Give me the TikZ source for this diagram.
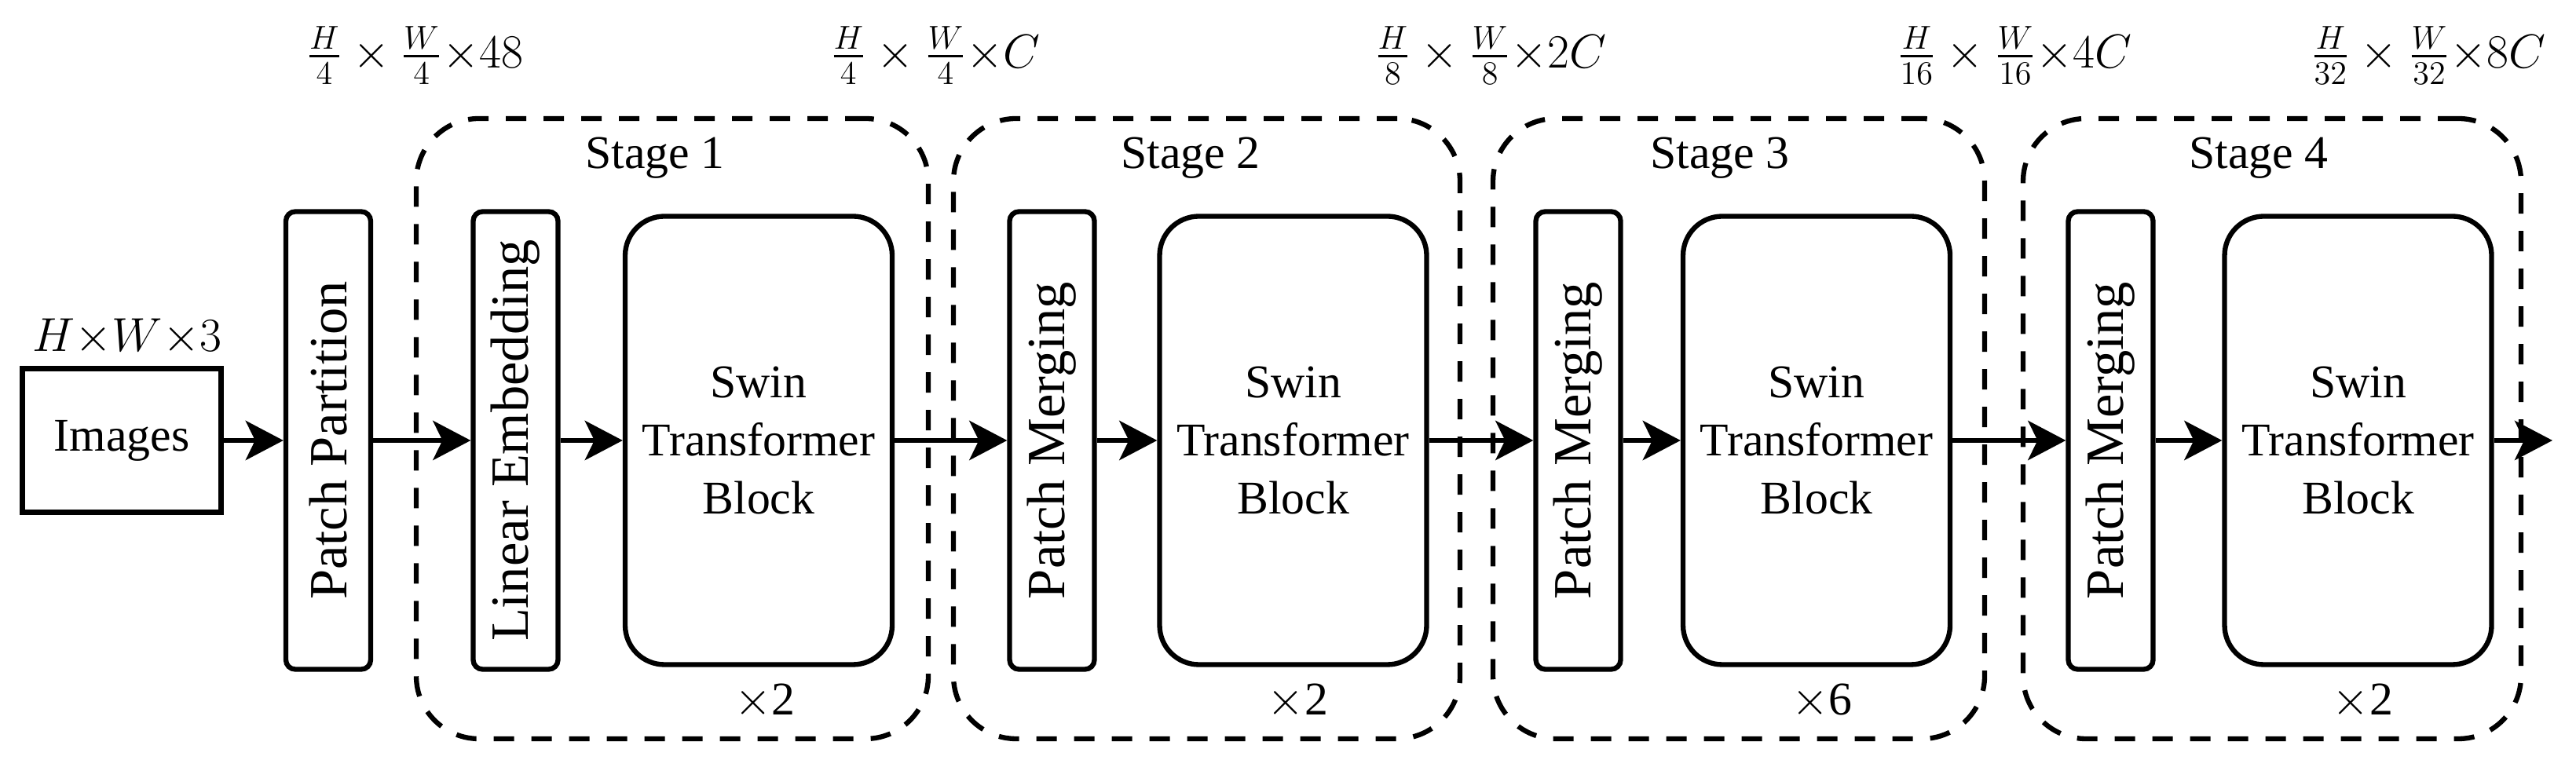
\documentclass[tikz,border=0pt]{standalone}
\usepackage{amsmath}
\usepackage[no-math]{fontspec}
\setmainfont{Liberation Serif}
\newfontfamily\figfont{Liberation Serif}
\usetikzlibrary{arrows.meta,positioning}

\begin{document}
\begin{tikzpicture}[%
    >={Stealth[length=0.48cm,width=0.5cm,inset=0.12cm]},
    on grid,
    line width=1.8pt,
    every node/.style={font=\figfont\fontsize{17}{21}\selectfont},
    imgbox/.style={draw, minimum width=2.53cm, minimum height=1.83cm, inner sep=0pt},
    thinbox/.style={draw, rounded corners=0.12cm, rotate=90, minimum width=5.83cm,
        minimum height=1.08cm, inner sep=0pt, font=\figfont\fontsize{19.5}{23}\selectfont},
    swinbox/.style={draw, rounded corners=0.5cm, minimum width=3.4cm,
        minimum height=5.71cm, align=center, inner sep=0pt},
    stagebox/.style={draw, dash pattern=on 0.26cm off 0.22cm, rounded corners=0.8cm,
        minimum height=7.9cm, inner sep=0pt},
    stagelabel/.style={anchor=base},
    dimlabel/.style={font=\fontsize{18}{21}\selectfont}
    ]

    \useasboundingbox (0,0) rectangle (32.8,9.68);

    % stages
    \node[stagebox, minimum width=6.52cm] (st1) at (8.56,4.22) {};
    \node[stagebox, minimum width=6.45cm] (st2) at (15.365,4.22) {};
    \node[stagebox, minimum width=6.26cm] (st3) at (22.14,4.22) {};
    \node[stagebox, minimum width=6.34cm] (st4) at (28.93,4.22) {};

    \node[stagelabel] (lab1) at (8.34,7.53) {Stage 1};
    \node[stagelabel] (lab2) at (15.16,7.53) {Stage 2};
    \node[stagelabel] (lab3) at (21.90,7.53) {Stage 3};
    \node[stagelabel] (lab4) at (28.76,7.53) {Stage 4};

    % blocks
    \node[imgbox] (img) at (1.55,4.07) {Images};
    \node[thinbox] (pp) [right=2.63cm of img] {Patch Partition};
    \node[thinbox] (le) [right=2.385cm of pp] {Linear Embedding};
    \node[swinbox] (sw1) [right=3.095cm of le] {Swin\\Transformer\\Block};
    \node[thinbox] (pm2) [right=3.735cm of sw1] {Patch Merging};
    \node[swinbox] (sw2) [right=3.07cm of pm2] {Swin\\Transformer\\Block};
    \node[thinbox] (pm3) [right=3.63cm of sw2] {Patch Merging};
    \node[swinbox] (sw3) [right=3.035cm of pm3] {Swin\\Transformer\\Block};
    \node[thinbox] (pm4) [right=3.745cm of sw3] {Patch Merging};
    \node[swinbox] (sw4) [right=3.15cm of pm4] {Swin\\Transformer\\Block};
    \coordinate (out) at (32.5,4.07);

    \node (rep1) [below=3.32cm of sw1, xshift=0.08cm] {$\times$2};
    \node (rep2) [below=3.32cm of sw2, xshift=0.06cm] {$\times$2};
    \node (rep3) [below=3.32cm of sw3, xshift=0.07cm] {$\times$6};
    \node (rep4) [below=3.32cm of sw4, xshift=0.06cm] {$\times$2};

    % sizes
    \node[dimlabel, anchor=base] (din) at (1.62,5.2) {$H{\times}W{\times}3$};
    \node[dimlabel] (d0) at (5.28,8.97) {$\frac{H}{4}\times\frac{W}{4}{\times}48$};
    \node[dimlabel] (d1) at (11.91,8.97) {$\frac{H}{4}\times\frac{W}{4}{\times}C$};
    \node[dimlabel] (d2) at (18.98,8.97) {$\frac{H}{8}\times\frac{W}{8}{\times}2C$};
    \node[dimlabel] (d3) at (25.65,8.97) {$\frac{H}{16}\times\frac{W}{16}{\times}4C$};
    \node[dimlabel] (d4) at (30.92,8.97) {$\frac{H}{32}\times\frac{W}{32}{\times}8C$};

    \path[->] (img) edge (pp);
    \path[->] (pp) edge (le);
    \path[->] (le) edge (sw1);
    \path[->] (sw1) edge (pm2);
    \path[->] (pm2) edge (sw2);
    \path[->] (sw2) edge (pm3);
    \path[->] (pm3) edge (sw3);
    \path[->] (sw3) edge (pm4);
    \path[->] (pm4) edge (sw4);
    \path[->] (sw4) edge (out);

\end{tikzpicture}
\end{document}
